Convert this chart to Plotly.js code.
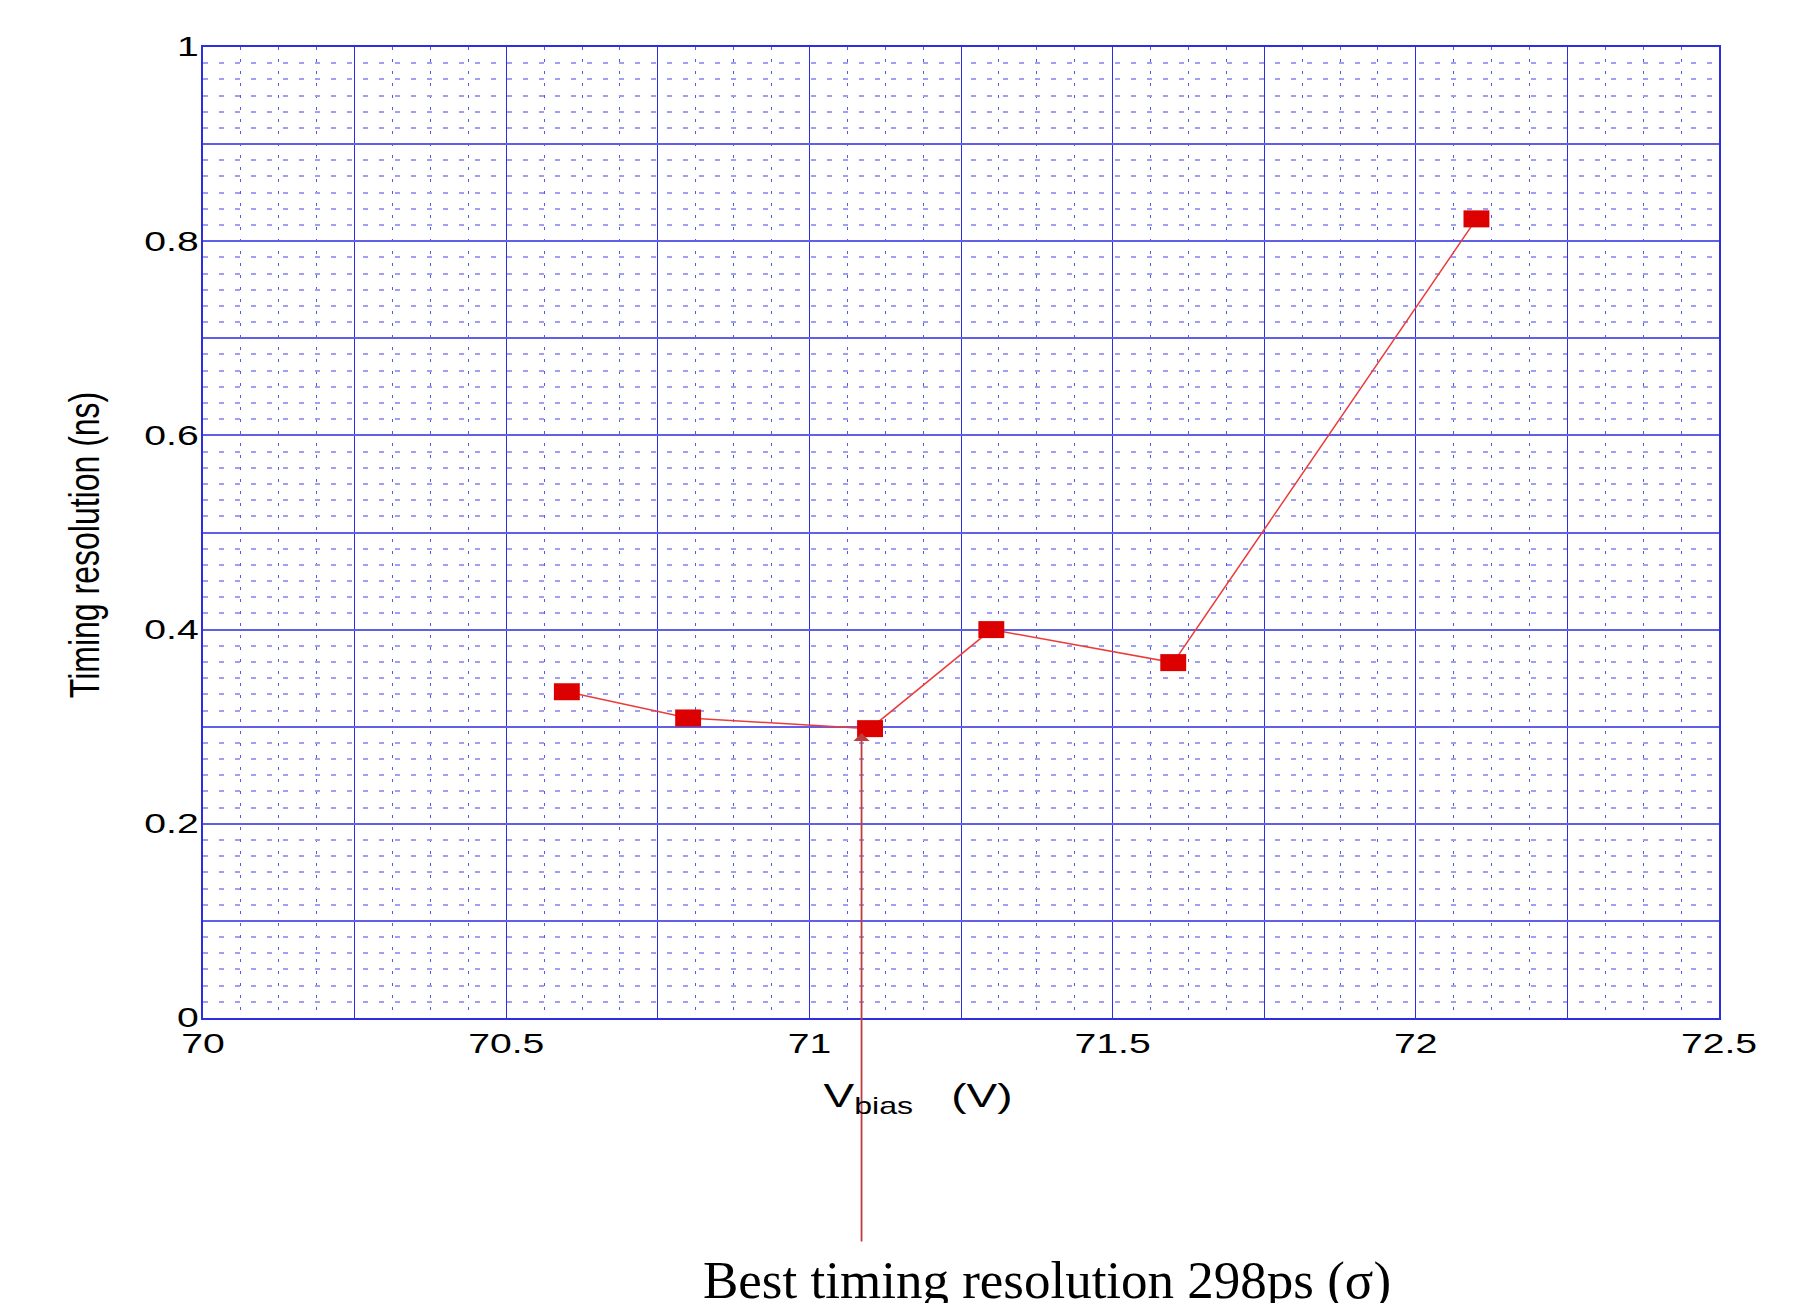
<!DOCTYPE html>
<html><head><meta charset="utf-8">
<script src="https://cdn.plot.ly/plotly-3.0.1.min.js"></script>
<style>html,body{margin:0;padding:0;background:#fff}</style>
</head><body><div id="chart" style="width:1812px;height:1303px"></div>
<script>
// ---- data ----
const vbias = [70.6, 70.8, 71.1, 71.3, 71.6, 72.1];
const timingRes = [0.336, 0.309, 0.298, 0.400, 0.366, 0.823];
const xTickVals = [70, 70.25, 70.5, 70.75, 71, 71.25, 71.5, 71.75, 72, 72.25, 72.5];
const xTickText = ['70', '', '70.5', '', '71', '', '71.5', '', '72', '', '72.5'];
const yTickVals = [0, 0.1, 0.2, 0.3, 0.4, 0.5, 0.6, 0.7, 0.8, 0.9, 1];
const yTickText = ['0', '', '0.2', '', '0.4', '', '0.6', '', '0.8', '', '1'];
const bestX = 71.086, bestY = 0.2935;
const noteText = 'Best timing resolution 298ps (\u03c3)';
const xTitle = 'V<sub>bias</sub>&nbsp;&nbsp;&nbsp;(V)';
const yTitle = 'Timing resolution (ns)';

const majorBlue = 'rgb(45,45,225)';
const tickFont = {family: 'Liberation Sans, Arial, sans-serif', size: 27, color: '#000'};

const trace = {
  type: 'scatter', mode: 'lines+markers',
  x: vbias, y: timingRes,
  line: {color: 'rgb(235,60,60)', width: 1.5},
  marker: {symbol: 'line-ew', size: 18.5, color: 'rgb(221,0,0)',
           line: {color: 'rgb(221,0,0)', width: 17}},
  cliponaxis: false, hoverinfo: 'x+y'
};

const layout = {
  width: 1812, height: 1303,
  margin: {l: 203, r: 93, t: 47, b: 285},
  paper_bgcolor: '#fff', plot_bgcolor: '#fff',
  showlegend: false,
  xaxis: {
    range: [70, 72.5], tickmode: 'array', tickvals: xTickVals, ticktext: xTickText,
    showgrid: true, gridcolor: majorBlue, gridwidth: 1.4,
    showline: true, linecolor: majorBlue, linewidth: 1.8, mirror: true,
    ticks: '', zeroline: false, tickfont: tickFont, ticklabelstandoff: 1,
    minor: {tick0: 70, dtick: 0.0625, showgrid: true, gridcolor: 'rgb(85,85,230)',
            gridwidth: 1.3, griddash: '3px,9px', ticks: ''}
  },
  yaxis: {
    range: [0, 1], tickmode: 'array', tickvals: yTickVals, ticktext: yTickText,
    showgrid: true, gridcolor: 'rgb(95,95,232)', gridwidth: 1.8,
    showline: true, linecolor: majorBlue, linewidth: 1.8, mirror: true,
    ticks: '', zeroline: false, tickfont: tickFont, ticklabelstandoff: -3,
    minor: {tick0: 0, dtick: 0.1 / 6, showgrid: true, gridcolor: 'rgb(160,160,242)',
            gridwidth: 1.6, griddash: '5px,11px', ticks: ''}
  },
  annotations: [
    {x: bestX, y: bestY, xref: 'x', yref: 'y', text: '', showarrow: true,
     ax: 0, ay: 510, arrowcolor: 'rgb(190,60,60)', arrowwidth: 1.8,
     arrowhead: 1, arrowsize: 1.5, standoff: 0},
    {x: 0.4715, y: -0.058, xref: 'paper', yref: 'paper', xanchor: 'center', yanchor: 'top',
     text: xTitle, showarrow: false,
     font: {family: 'Liberation Sans, Arial, sans-serif', size: 34, color: '#000'}},
    {x: -0.0778, y: 0.487, xref: 'paper', yref: 'paper', xanchor: 'center', yanchor: 'middle',
     text: yTitle, textangle: -90, showarrow: false,
     font: {family: 'Liberation Sans, Arial, sans-serif', size: 32, color: '#000'}},
    {x: 0.557, y: -0.238, xref: 'paper', yref: 'paper', xanchor: 'center', yanchor: 'top',
     text: noteText, showarrow: false,
     font: {family: 'Liberation Serif, Times New Roman, serif', size: 53, color: '#000'}}
  ]
};

// widen text horizontally on screen (the reference chart is horizontally stretched)
function stretch(el, s, mode) {
  const P0 = el.parentNode.getCTM();
  const P = new DOMMatrix([P0.a, P0.b, P0.c, P0.d, P0.e, P0.f]);
  const tl = el.transform.baseVal.consolidate();
  const T = tl ? new DOMMatrix([tl.matrix.a, tl.matrix.b, tl.matrix.c, tl.matrix.d, tl.matrix.e, tl.matrix.f]) : new DOMMatrix();
  const M = P.multiply(T);
  const bb = el.getBBox();
  const pts = [[bb.x, bb.y], [bb.x + bb.width, bb.y], [bb.x, bb.y + bb.height], [bb.x + bb.width, bb.y + bb.height]]
    .map(p => new DOMPoint(p[0], p[1]).matrixTransform(M));
  const xs = pts.map(p => p.x);
  const minX = Math.min(...xs), maxX = Math.max(...xs);
  const ax = mode === 'right' ? maxX : (minX + maxX) / 2;
  const S = new DOMMatrix([s, 0, 0, 1, ax - s * ax, 0]);
  const Tn = P.inverse().multiply(S).multiply(M);
  el.setAttribute('transform', `matrix(${Tn.a},${Tn.b},${Tn.c},${Tn.d},${Tn.e},${Tn.f})`);
}

Plotly.newPlot('chart', [trace], layout, {displayModeBar: false, responsive: false}).then(gd => {
  gd.querySelectorAll('.xtick text').forEach(t => stretch(t, 1.45, 'center'));
  gd.querySelectorAll('.ytick text').forEach(t => stretch(t, 1.45, 'right'));
  const ann = gd.querySelectorAll('.annotation');
  ann.forEach(a => {
    const idx = a.getAttribute('data-index');
    const t = a.querySelector('.annotation-text');
    if (!t) return;
    if (idx === '1') stretch(t, 1.35, 'center');
    if (idx === '2') stretch(t, 1.3, 'center');
  });
});
</script>
</body></html>
